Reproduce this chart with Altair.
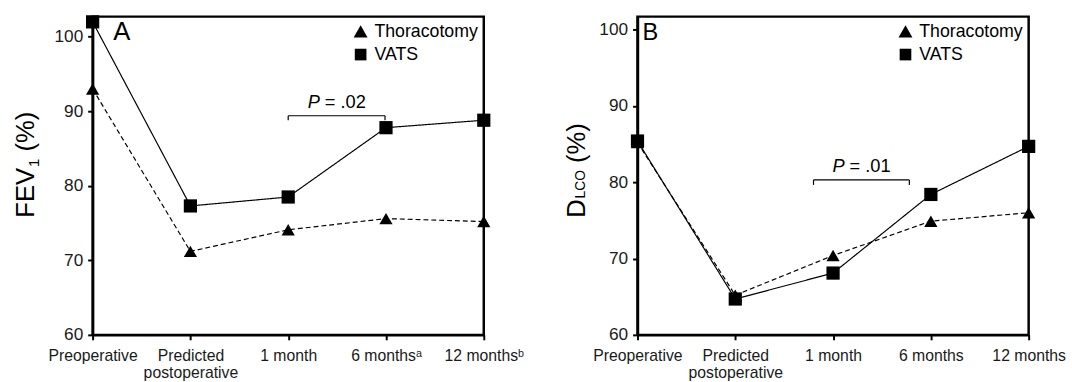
import json
import altair as alt
import pandas as pd

# ---------------- data ----------------
groups = ["Thoracotomy", "VATS"]
shapes = ["triangle-up", "square"]
x_index = [0, 1, 2, 3, 4]
labels_a = ["Preoperative", ["Predicted", "postoperative"], "1 month", "6 months\u1d43", "12 months\u1d47"]
labels_b = ["Preoperative", ["Predicted", "postoperative"], "1 month", "6 months", "12 months"]

fev1_thoracotomy = [93.0, 71.2, 74.1, 75.6, 75.2]
fev1_vats = [102.0, 77.3, 78.5, 87.8, 88.8]
dlco_thoracotomy = [85.2, 65.2, 70.4, 74.9, 76.0]
dlco_vats = [85.4, 64.7, 68.1, 78.4, 84.7]

y_ticks = [60, 70, 80, 90, 100]

# significance brackets: x start, x end, y of bar, y of tick ends, y of text baseline
bracket_a = {"x": 2.0, "x2": 2.99, "y": 89.4, "ytick": 88.8, "ytext": 90.5, "p": "= .02"}
bracket_b = {"x": 1.8, "x2": 2.78, "y": 80.3, "ytick": 79.65, "ytext": 81.4, "p": "= .01"}

FONT = "Liberation Sans"
W, H = 397, 323
LEGEND_SIZES = [200, 140]


def panel(thor, vats, labels, ymax, letter, letter_size, letter_x, br, title_parts):
    df = pd.DataFrame({
        "idx": x_index * 2,
        "value": thor + vats,
        "group": [groups[0]] * 5 + [groups[1]] * 5,
    })
    label_expr = json.dumps(labels, ensure_ascii=False) + "[datum.value]"
    xenc = alt.X("idx:Q",
                 scale=alt.Scale(domain=[0, 4], nice=False, zero=False),
                 axis=alt.Axis(values=x_index, labelExpr=label_expr, title=None, grid=False,
                               labelFontSize=16, labelLineHeight=17, labelPadding=8,
                               labelFlush=False, labelOverlap=False))
    yenc = alt.Y("value:Q",
                 scale=alt.Scale(domain=[60, ymax], nice=False, zero=False),
                 axis=alt.Axis(values=y_ticks, title=None, grid=False, labelFontSize=17.5,
                               labelPadding=5))
    base = alt.Chart(df)
    lines = base.mark_line(color="black", strokeWidth=1.2).encode(
        x=xenc, y=yenc,
        strokeDash=alt.StrokeDash("group:N", scale=alt.Scale(domain=groups, range=[[5, 3], [1, 0]]),
                                  legend=None),
        detail="group:N",
    )
    points = base.mark_point(filled=True, color="black", opacity=1, size=180, strokeWidth=0).encode(
        x=xenc, y=yenc,
        shape=alt.Shape("group:N", scale=alt.Scale(domain=groups, range=shapes), legend=None),
    )
    bdf = pd.DataFrame([br])
    hbar = alt.Chart(bdf).mark_rule(color="black", strokeWidth=1.2).encode(
        x=alt.X("x:Q"), x2="x2:Q", y=alt.Y("y:Q"))
    tdf = pd.DataFrame({"tx": [br["x"], br["x2"]], "ty": [br["ytick"]] * 2, "ty2": [br["y"]] * 2})
    ticks = alt.Chart(tdf).mark_rule(color="black", strokeWidth=1.2).encode(
        x=alt.X("tx:Q"), y=alt.Y("ty:Q"), y2="ty2:Q")
    mid = (br["x"] + br["x2"]) / 2
    pdf = pd.DataFrame({"px": [mid], "py": [br["ytext"]], "ptxt": [br["p"]]})
    ptxt_p = alt.Chart(pdf).mark_text(text="P", font=FONT, fontSize=18.5, fontStyle="italic",
                                      align="right", baseline="alphabetic", dx=-17,
                                      color="black").encode(x=alt.X("px:Q"), y=alt.Y("py:Q"))
    ptxt_r = alt.Chart(pdf).mark_text(font=FONT, fontSize=18.5, align="left",
                                      baseline="alphabetic", dx=-12,
                                      color="black").encode(x=alt.X("px:Q"), y=alt.Y("py:Q"),
                                                            text="ptxt:N")
    let = alt.Chart(pd.DataFrame({"t": [letter]})).mark_text(
        font=FONT, fontSize=letter_size, align="left", baseline="alphabetic", color="black"
    ).encode(x=alt.value(letter_x), y=alt.value(24), text="t:N")

    # legend (drawn inside the plot, top right)
    leg = []
    for i, (g, s) in enumerate(zip(groups, shapes)):
        ldf = pd.DataFrame({"t": [g]})
        leg.append(alt.Chart(ldf).mark_point(filled=True, color="black", opacity=1,
                                             size=LEGEND_SIZES[i], strokeWidth=0, shape=s).encode(
            x=alt.value(272), y=alt.value(15 + 23.5 * i)))
        leg.append(alt.Chart(ldf).mark_text(font=FONT, fontSize=18, align="left",
                                            baseline="middle", color="black").encode(
            x=alt.value(286), y=alt.value(16 + 23.5 * i), text="t:N"))

    tparts = []
    for txt, size, tx, ty in title_parts:
        tparts.append(alt.Chart(pd.DataFrame({"t": [txt]})).mark_text(
            font=FONT, fontSize=size, angle=270, align="left", baseline="alphabetic", color="black"
        ).encode(x=alt.value(tx), y=alt.value(ty), text="t:N"))

    return alt.layer(lines, points, hbar, ticks, ptxt_p, ptxt_r, let, *leg, *tparts).properties(
        width=W, height=H)


chart_a = panel(fev1_thoracotomy, fev1_vats, labels_a, 102.7, "A", 26, 21,
                bracket_a,
                [("FEV", 26, -59, 204), ("1", 15, -54, 152.5), ("(%)", 26, -59, 137)])
chart_b = panel(dlco_thoracotomy, dlco_vats, labels_b, 101.7, "B", 24, 5,
                bracket_b,
                [("D", 26, -53, 204), ("LCO", 14, -53, 184.5), ("(%)", 26, -53, 148.5)])

chart = alt.hconcat(chart_a, chart_b, spacing=38).resolve_scale(
    x="independent", y="independent", shape="independent", strokeDash="independent"
).properties(
    padding={"left": 12, "top": 11, "right": 5, "bottom": 0},
    background="white",
).configure_view(stroke="black", strokeWidth=2.5).configure_axis(
    domainColor="black", domainWidth=2.5, tickColor="black", tickWidth=2, tickSize=5,
    labelFont=FONT, labelColor="#1a1a1a"
)

chart.save("out.html", embed_options={"renderer": "svg", "actions": False})
